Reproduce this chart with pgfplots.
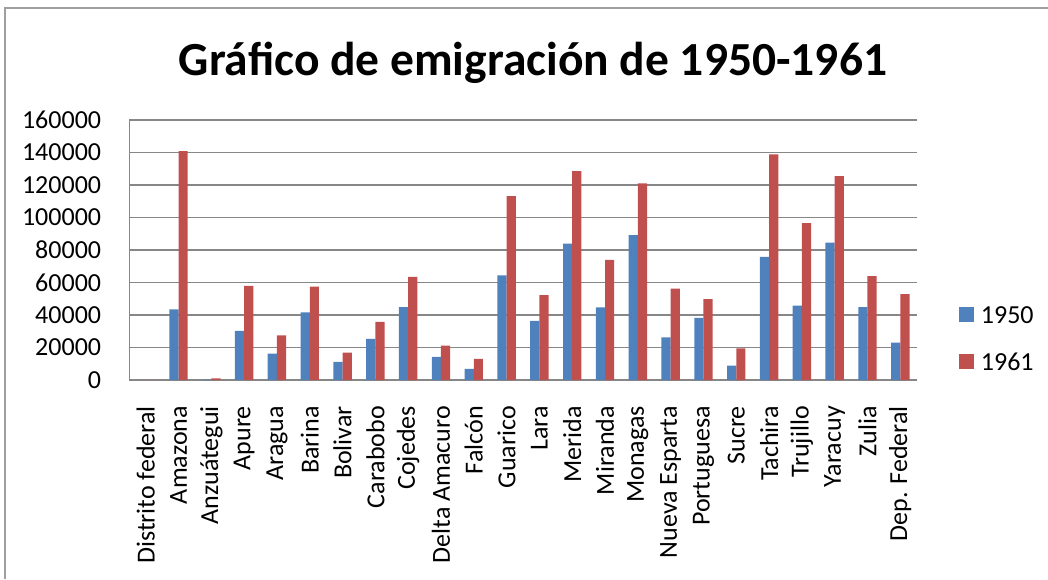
\documentclass[border=0pt]{standalone}
\usepackage{fontspec}
\setmainfont{Carlito}
\usepackage{pgfplots}
\pgfplotsset{compat=1.18}
\definecolor{xblue}{HTML}{4F81BD}
\definecolor{xred}{HTML}{C0504D}
\definecolor{gridgray}{HTML}{878787}
\begin{document}
\begin{tikzpicture}[x=1pt,y=1pt]
\useasboundingbox (0,0) rectangle (1048,-579);
\draw[color=gridgray!80, line width=1.2pt] (5,-579) -- (5,-8) -- (1048,-8);
\node[anchor=base, font=\fontsize{47.5}{54}\selectfont\bfseries, inner sep=0pt] at (533,-75) {Gráfico de emigración de 1950-1961};
\begin{axis}[
  at={(129.3pt,-380pt)}, anchor=south west,
  scale only axis, width=787.4pt, height=260pt,
  xmin=-0.5, xmax=23.5, ymin=0, ymax=160000,
  ybar=0pt, bar width=9.2pt,
  axis lines*=left,
  axis line style={draw=gridgray, line width=1.2pt, -},
  ymajorgrids, grid style={draw=gridgray, line width=1.2pt},
  major tick length=0pt,
  ytick={0,20000,40000,60000,80000,100000,120000,140000,160000},
  yticklabels={0,20000,40000,60000,80000,100000,120000,140000,160000},
  scaled y ticks=false,
  yticklabel style={anchor=east, inner sep=0pt, xshift=-28pt, font=\fontsize{26}{30}\selectfont},
  xtick={0,...,23},
  xticklabels={Distrito federal,Amazona,Anzuátegui,Apure,Aragua,Barina,Bolivar,Carabobo,Cojedes,Delta Amacuro,Falcón,Guarico,Lara,Merida,Miranda,Monagas,Nueva Esparta,Portuguesa,Sucre,Tachira,Trujillo,Yaracuy,Zulia,Dep. Federal},
  xticklabel style={rotate=90, anchor=east, inner sep=0pt, font=\fontsize{26}{30}\selectfont},
  xticklabel shift=26pt,
  every axis plot post/.append style={legend image code/.code={\fill[##1, draw=none] (0pt,-7pt) rectangle (15pt,8pt);}},
  legend style={at={(1.0537,0.2846)}, anchor=north west, draw=none, fill=none, inner sep=0pt,
    nodes={inner sep=0pt}, column sep=6.7pt, row sep=28pt, font=\fontsize{26}{30}\selectfont},
  legend cell align=left,
  clip=false,
]
\addplot[fill=xblue, draw=none] coordinates {
(0,0) (1,43500) (2,300) (3,30200) (4,16300) (5,41600) (6,11100) (7,25300) (8,44900) (9,14200) (10,6800) (11,64400)
(12,36400) (13,83900) (14,44700) (15,89100) (16,26300) (17,38300) (18,8800) (19,75700) (20,45700) (21,84600) (22,44900) (23,23000)};
\addplot[fill=xred, draw=none] coordinates {
(0,0) (1,140900) (2,1000) (3,58000) (4,27400) (5,57400) (6,16900) (7,35800) (8,63400) (9,21200) (10,13000) (11,113200)
(12,52300) (13,128600) (14,73900) (15,121000) (16,56200) (17,49800) (18,19500) (19,138900) (20,96500) (21,125500) (22,64000) (23,52900)};
\legend{1950,1961}
\end{axis}
\end{tikzpicture}
\end{document}
